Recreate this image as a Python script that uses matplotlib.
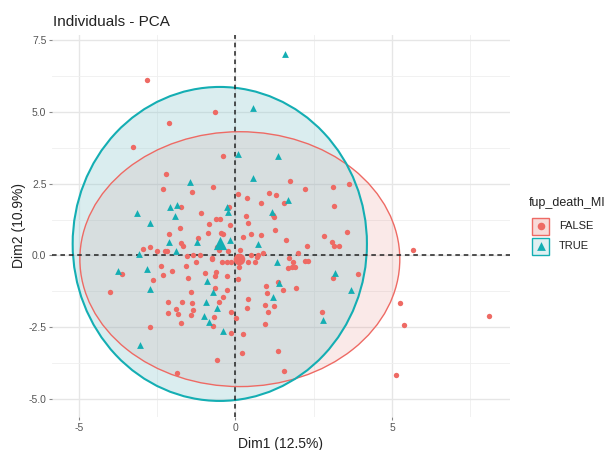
import matplotlib
matplotlib.use("Agg")
import matplotlib.pyplot as plt
from matplotlib.patches import Ellipse, Rectangle
import numpy as np

plt.rcParams['font.family'] = ['Liberation Sans', 'DejaVu Sans']

groups = ["FALSE", "TRUE"]
colors = {"FALSE": "#EE6A64", "TRUE": "#14AEB3"}
fills = {"FALSE": "#E0706A", "TRUE": "#87C6CD"}

false_x = [-2.81, -0.66, -2.12, -3.27, -0.40, -2.22, -2.33, -1.38, -0.73, 0.09,
           -1.74, -1.10, -0.62, -0.50, -0.84, -0.18, -1.77, -2.11, -0.89, -1.74,
           -1.67, -1.19, -2.95, -2.74, -2.51, -2.25, -2.20, -1.56, -1.35, -1.14,
           -0.74, -0.59, -0.53, 1.73, 2.22, 3.11, 3.64, 3.16, 0.38, 1.08,
           1.28, 0.82, 1.55, -0.21, 1.21, 1.24, 0.33, 0.39, 1.26, 0.49,
           0.81, 0.25, -0.46, -0.39, 1.60, 2.82, 3.57, 3.07, 3.15, 3.31,
           2.27, -0.23, 0.14, 0.50, 0.73, 0.89, 2.01, 5.66, -0.44, -0.28,
           -0.15, 0.11, 0.39, 0.62, 0.70, 1.71, 1.85, 1.90, 1.80, 1.67,
           2.22, 2.31, 3.12, 3.92, -0.64, -0.28, 0.07, -0.65, -0.28, 1.35,
           1.51, 1.95, 0.97, 1.00, 0.41, -0.41, -0.53, 0.36, 0.94, 1.24,
           1.03, -0.15, 0.01, 2.75, 0.94, -0.15, 0.25, 0.20, 1.37, -0.58,
           1.55, 5.26, 5.39, 8.10, 5.12, -3.62, -2.39, -2.02, -2.33, -2.63,
           -1.59, -1.26, -0.76, -0.97, -0.62, -1.53, -4.01, -1.42, -2.17, -1.70,
           -1.38, -1.91, -1.35, -2.17, -1.83, -1.42, -0.69, -1.74, -0.71, -2.73,
           -1.86]
false_y = [6.10, 5.00, 4.61, 3.78, 3.48, 2.83, 2.31, 2.20, 2.40, 2.13,
           1.68, 1.47, 1.26, 1.27, 1.09, 1.06, 0.95, 0.74, 0.78, 0.45,
           0.33, 0.59, 0.23, 0.31, 0.17, 0.16, 0.15, -0.02, 0.02, 0.02,
           -0.08, 0.31, 0.19, 2.61, 2.32, 2.40, 2.49, 1.71, 1.99, 2.18,
           2.11, 1.82, 1.82, 1.70, 1.41, 1.33, 1.38, 1.12, 0.89, 0.75,
           0.71, 0.63, 0.77, 0.75, 0.54, 0.68, 0.81, 0.48, 0.33, 0.33,
           0.33, 0.17, 0.19, 0.02, 0.02, 0.08, 0.10, 0.19, -0.24, -0.24,
           -0.24, -0.42, -0.22, -0.24, -0.04, -0.10, -0.24, -0.39, -0.41, -0.45,
           -0.18, -0.18, -0.77, -0.64, -0.70, -0.71, -0.82, -1.14, -1.20, -0.91,
           -1.20, -1.14, -1.06, -1.30, -1.52, -1.46, -1.61, -1.84, -1.72, -1.75,
           -1.96, -1.96, -2.19, -1.96, -2.39, -2.69, -2.74, -3.41, -3.33, -3.64,
           -4.02, -1.67, -2.42, -2.10, -4.17, -0.66, -0.37, -0.56, -0.68, -0.85,
           -0.37, -0.24, -0.12, -0.60, -0.58, -0.79, -1.26, -1.26, -1.61, -1.64,
           -1.67, -1.87, -1.90, -1.99, -2.05, -2.07, -2.13, -2.34, -2.46, -2.48,
           -4.10]

true_x = [1.58, 0.57, 0.09, 1.37, 0.55, -1.44, -2.09, -1.88, -1.93, -0.28,
          -0.25, -3.15, -2.73, 1.67, 1.16, -2.12, -1.23, -1.91, -3.07, 0.73,
          -0.18, 1.32, 3.18, 1.40, 1.19, -0.60, 2.80, -0.39, 3.68, -3.74,
          -2.82, -0.92, -2.72, -0.71, -0.94, -1.01, -0.84, -3.05]
true_y = [7.02, 5.13, 3.54, 3.47, 2.71, 2.55, 1.70, 1.76, 1.39, 1.70,
          1.53, 1.49, 1.12, 1.94, 1.53, 0.48, 0.46, 0.17, 0.05, 0.40,
          0.54, -0.24, -0.60, -0.97, -1.46, -1.82, -2.25, -2.65, -1.20, -0.54,
          -0.47, -0.89, -1.18, -1.26, -1.61, -2.10, -2.31, -3.12]

# group centres (large markers)
center_x = {"FALSE": 0.11, "TRUE": -0.50}
center_y = {"FALSE": -0.13, "TRUE": 0.45}

# ellipse parameters (centre and semi-axes)
ell_cx = {"FALSE": 0.14, "TRUE": -0.50}
ell_cy = {"FALSE": -0.13, "TRUE": 0.40}
ell_ax = {"FALSE": 5.11, "TRUE": 4.70}
ell_ay = {"FALSE": 4.44, "TRUE": 5.47}

xticks = [-5, 0, 5]
yticks = [-5.0, -2.5, 0.0, 2.5, 5.0, 7.5]

fig = plt.figure(figsize=(6.1, 4.5), dpi=100)
ax = fig.add_axes([52/610, 1-417/450, (510-52)/610, (417-35)/450])
ax.set_xlim(-5.86, 8.77)
ax.set_ylim(-5.63, 7.68)

for g, a in zip(groups, [0.15, 0.3]):
    e = Ellipse((ell_cx[g], ell_cy[g]), 2*ell_ax[g], 2*ell_ay[g],
                facecolor=fills[g], alpha=a, edgecolor='none', zorder=2)
    ax.add_patch(e)
for g, lw in zip(groups, [1.0, 1.5]):
    e = Ellipse((ell_cx[g], ell_cy[g]), 2*ell_ax[g], 2*ell_ay[g],
                facecolor='none', edgecolor=colors[g], lw=lw, zorder=3)
    ax.add_patch(e)

ax.axhline(0, color='#222222', ls=(0, (3, 2.5)), lw=1.1, zorder=4)
ax.axvline(0, color='#222222', ls=(0, (3, 2.5)), lw=1.1, zorder=4)

ax.scatter(false_x, false_y, s=15, marker='o', color=colors["FALSE"], lw=0, zorder=5)
ax.scatter(true_x, true_y, s=24, marker='^', color=colors["TRUE"], lw=0, zorder=5)
ax.scatter([center_x["FALSE"]], [center_y["FALSE"]], s=70, marker='o', color=colors["FALSE"], lw=0, zorder=6)
ax.scatter([center_x["TRUE"]], [center_y["TRUE"]], s=90, marker='^', color=colors["TRUE"], lw=0, zorder=6)

ax.set_xticks(xticks)
ax.set_xticklabels([f"{v:g}" for v in xticks])
ax.set_yticks(yticks)
ax.set_yticklabels([f"{v:.1f}" for v in yticks])
ax.set_xticks([-2.5, 2.5, 7.5], minor=True)
ax.set_yticks([-3.75, -1.25, 1.25, 3.75, 6.25], minor=True)
ax.grid(which='major', color='#E6E6E6', lw=1.0, zorder=0)
ax.grid(which='minor', color='#EFEFEF', lw=0.6, zorder=0)
ax.set_axisbelow(True)
for s in ax.spines.values():
    s.set_visible(False)
ax.tick_params(which='major', length=2.5, width=0.8, color='#888888',
               labelsize=7.5, labelcolor='#555555', pad=1.5)
ax.tick_params(which='minor', length=0)

ax.set_xlabel("Dim1 (12.5%)", fontsize=10, color='#222222', labelpad=3)
ax.set_ylabel("Dim2 (10.9%)", fontsize=10, color='#222222', labelpad=2)
fig.text(53/610, 1-22/450, "Individuals - PCA", fontsize=11, color='#222222', va='center', ha='left')

# legend
lax = fig.add_axes([0, 0, 1, 1], facecolor='none')
lax.set_xlim(0, 610)
lax.set_ylim(450, 0)
lax.axis('off')
lax.text(529, 203, "fup_death_MI", fontsize=9, color='#222222', va='center', ha='left')
for i, g in enumerate(groups):
    yc = 226 + i*20
    lax.add_patch(Rectangle((532, yc-8.5), 17, 17, facecolor=fills[g], alpha=0.25, edgecolor='none'))
    lax.add_patch(Rectangle((532, yc-8.5), 17, 17, facecolor='none', edgecolor=colors[g], lw=1.0))
    lax.scatter([540.5], [yc], s=30 if g == "FALSE" else 40, marker='o' if g == "FALSE" else '^',
                color=colors[g], lw=0)
    lax.text(559, yc, g, fontsize=8, color='#222222', va='center', ha='left')

fig.savefig("out.png", dpi=100)
